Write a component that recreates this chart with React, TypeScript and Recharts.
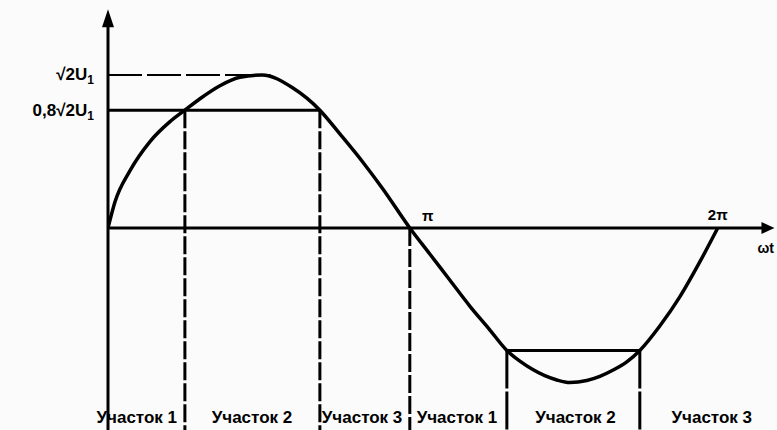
import React from 'react'
import {
  ComposedChart,
  Line,
  XAxis,
  YAxis,
  ReferenceLine,
  ReferenceDot
} from 'recharts'

// curve: phase in degrees, voltage as a share of √2·U1
const phaseDeg = [0, 4.1, 13, 24.8, 36.6, 45.4, 54.3, 66.1, 77.9, 90.9, 109.2, 125.1, 136.9, 150.5, 162.3, 178.2, 190, 201.8, 213.6, 225.4, 235.5, 243.2, 250.8, 257.9, 265, 272.7, 282.7, 290.4, 298, 306.3, 314, 325.8, 337.6, 349.5, 360]
const voltage = [0, 0.17, 0.375, 0.565, 0.695, 0.77, 0.845, 0.93, 0.985, 1.0, 0.915, 0.77, 0.615, 0.43, 0.255, 0, -0.17, -0.34, -0.51, -0.665, -0.8, -0.87, -0.925, -0.965, -0.993, -1.01, -0.997, -0.97, -0.93, -0.875, -0.8, -0.64, -0.45, -0.22, 0]

// levels and section borders
const peakLevel = 1
const cutLevel = 0.77
const cutLevelNeg = -0.8
const borders = [45.4, 125.1, 178.2]
const bordersNeg = [235.5, 314]
const piPos = 178.2
const twoPiPos = 360

// section captions under the curve
const sectionNames = ['Участок 1', 'Участок 2', 'Участок 3', 'Участок 1', 'Участок 2', 'Участок 3']
const sectionCenters = [17, 85, 150, 206, 276, 356.5]

const X_MAX = 395
const Y_MIN = -1.32
const Y_MAX = 1.49

const data = phaseDeg.map((x, i) => ({ x, u: voltage[i] }))

const font = '"Liberation Sans", Arial, sans-serif'

const UpArrow = ({ cx, cy }: any) => (
  <polygon points={`${cx},${cy} ${cx - 6},${cy + 18} ${cx + 6},${cy + 18}`} fill="#000" />
)

const RightArrow = ({ cx, cy }: any) => (
  <polygon points={`${cx},${cy} ${cx - 13},${cy - 6} ${cx - 13},${cy + 6}`} fill="#000" />
)

const Label = (text: React.ReactNode, dx: number, dy: number, anchor = 'middle', size = 15) =>
  ({ cx, cy }: any) => (
    <text
      x={cx + dx}
      y={cy + dy}
      textAnchor={anchor}
      fontFamily={font}
      fontWeight="bold"
      fontSize={size}
      fill="#000"
    >
      {text}
    </text>
  )

const ULabel = (prefix: string) => (
  <>
    {prefix}U<tspan fontSize={12} dy={4}>1</tspan>
  </>
)

export default function App() {
  return (
    <div style={{ position: 'absolute', left: 0, top: 0, background: '#fafbfa' }}>
      <ComposedChart
        width={777}
        height={430}
        data={data}
        margin={{ top: 0, right: 0, bottom: 0, left: 108 }}
      >
        <XAxis type="number" dataKey="x" domain={[0, X_MAX]} hide allowDataOverflow />
        <YAxis type="number" domain={[Y_MIN, Y_MAX]} hide allowDataOverflow />

        {/* axes */}
        <ReferenceLine segment={[{ x: 0, y: 0 }, { x: 388, y: 0 }]} stroke="#000" strokeWidth={3} />
        <ReferenceLine segment={[{ x: 0, y: Y_MIN }, { x: 0, y: 1.38 }]} stroke="#000" strokeWidth={3} />
        <ReferenceDot x={0} y={1.43} r={0} shape={UpArrow} ifOverflow="visible" />
        <ReferenceDot x={393.5} y={0} r={0} shape={RightArrow} ifOverflow="visible" />

        {/* levels */}
        <ReferenceLine
          segment={[{ x: 0, y: peakLevel }, { x: 96, y: peakLevel }]}
          stroke="#000"
          strokeWidth={2}
          strokeDasharray="34 5"
        />
        <ReferenceLine segment={[{ x: 0, y: cutLevel }, { x: borders[1], y: cutLevel }]} stroke="#000" strokeWidth={3} />
        <ReferenceLine
          segment={[{ x: bordersNeg[0], y: cutLevelNeg }, { x: bordersNeg[1], y: cutLevelNeg }]}
          stroke="#000"
          strokeWidth={3}
        />

        {/* section borders */}
        {borders.map((b, i) => (
          <ReferenceLine
            key={'b' + i}
            segment={[{ x: b, y: i < 2 ? cutLevel : 0 }, { x: b, y: Y_MIN }]}
            stroke="#000"
            strokeWidth={3}
            strokeDasharray="18 3"
          />
        ))}
        {bordersNeg.map((b, i) => (
          <ReferenceLine
            key={'n' + i}
            segment={[{ x: b, y: cutLevelNeg }, { x: b, y: Y_MIN }]}
            stroke="#000"
            strokeWidth={3}
            strokeDasharray="38 3"
          />
        ))}

        <Line
          type="monotone"
          dataKey="u"
          stroke="#000"
          strokeWidth={3.5}
          dot={false}
          activeDot={false}
          isAnimationActive={false}
        />

        {/* text */}
        <ReferenceDot x={0} y={peakLevel} r={0} ifOverflow="visible" shape={Label(ULabel('√2'), -14, 5, 'end', 17)} />
        <ReferenceDot x={0} y={cutLevel} r={0} ifOverflow="visible" shape={Label(ULabel('0,8√2'), -14, 6, 'end', 17)} />
        <ReferenceDot x={piPos} y={0} r={0} ifOverflow="visible" shape={Label('π', 18, -7)} />
        <ReferenceDot x={twoPiPos} y={0} r={0} ifOverflow="visible" shape={Label('2π', 0, -8)} />
        <ReferenceDot x={393.5} y={0} r={0} ifOverflow="visible" shape={Label('ωt', -17, 25, 'start', 14)} />
        {sectionNames.map((name, i) => (
          <ReferenceDot
            key={'s' + i}
            x={sectionCenters[i]}
            y={-1.235}
            r={0}
            ifOverflow="visible"
            shape={Label(name, 0, 6, 'middle', 17)}
          />
        ))}
      </ComposedChart>
    </div>
  )
}
